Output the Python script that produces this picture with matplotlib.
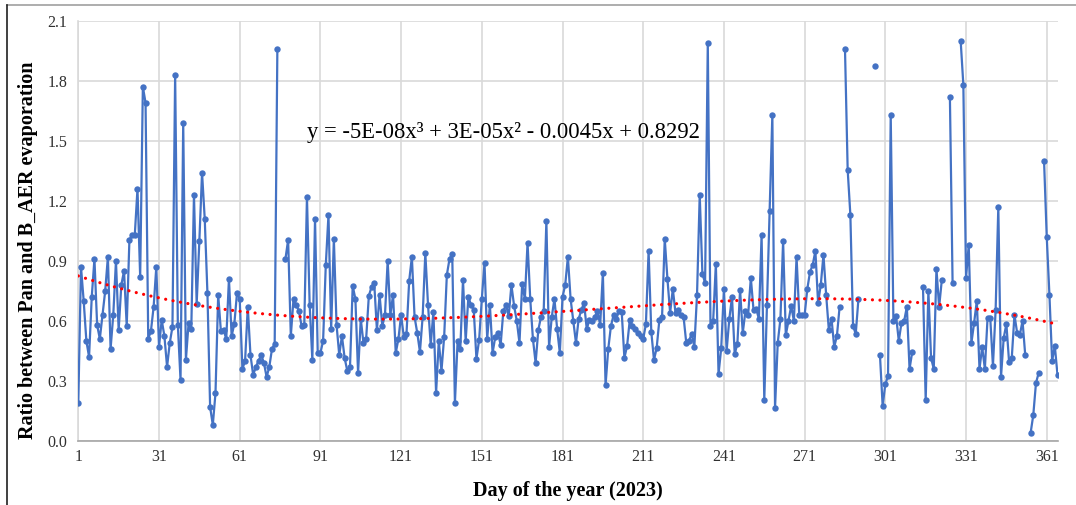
import numpy as np
import matplotlib
matplotlib.use("Agg")
import matplotlib.pyplot as plt
from matplotlib.lines import Line2D

plt.rcParams['font.family'] = ['Liberation Serif', 'DejaVu Serif']

nan = np.nan
# daily Pan / B_AER evaporation ratio, day 1..365 (nan = no data)
ratio = [
    0.19, 0.87, 0.70, 0.50, 0.42, 0.72, 0.91, 0.58, 0.51, 0.63,
    0.75, 0.92, 0.46, 0.63, 0.90, 0.555, 0.78, 0.85, 0.575, 1.005,
    1.03, 1.03, 1.26, 0.82, 1.77, 1.69, 0.51, 0.55, 0.67, 0.87,
    0.47, 0.605, 0.525, 0.37, 0.49, 0.57, 1.83, 0.58, 0.305, 1.59,
    0.405, 0.59, 0.56, 1.23, 0.685, 1.00, 1.34, 1.11, 0.74, 0.17,
    0.08, 0.24, 0.73, 0.55, 0.555, 0.51, 0.81, 0.525, 0.585, 0.74,
    0.71, 0.36, 0.40, 0.67, 0.43, 0.33, 0.37, 0.40, 0.43, 0.39,
    0.32, 0.37, 0.46, 0.485, 1.96, nan, nan, 0.91, 1.005, 0.525,
    0.71, 0.68, 0.65, 0.575, 0.58, 1.22, 0.68, 0.405, 1.11, 0.44,
    0.44, 0.50, 0.88, 1.13, 0.56, 1.01, 0.58, 0.43, 0.525, 0.415,
    0.35, 0.37, 0.775, 0.71, 0.34, 0.61, 0.49, 0.51, 0.725, 0.77,
    0.79, 0.555, 0.73, 0.575, 0.63, 0.90, 0.63, 0.73, 0.44, 0.51,
    0.63, 0.52, 0.535, 0.80, 0.92, 0.62, 0.54, 0.445, 0.62, 0.94,
    0.68, 0.48, 0.645, 0.24, 0.50, 0.35, 0.52, 0.83, 0.91, 0.935,
    0.19, 0.50, 0.46, 0.805, 0.50, 0.72, 0.68, 0.655, 0.41, 0.505,
    0.71, 0.89, 0.51, 0.68, 0.44, 0.52, 0.54, 0.48, 0.65, 0.68,
    0.625, 0.78, 0.675, 0.60, 0.49, 0.785, 0.71, 0.99, 0.71, 0.51,
    0.39, 0.555, 0.62, 0.65, 1.10, 0.47, 0.62, 0.71, 0.56, 0.44,
    0.72, 0.78, 0.92, 0.71, 0.60, 0.49, 0.61, 0.655, 0.69, 0.56,
    0.605, 0.60, 0.62, 0.65, 0.58, 0.84, 0.28, 0.46, 0.575, 0.63,
    0.61, 0.65, 0.645, 0.415, 0.475, 0.605, 0.575, 0.56, 0.54, 0.525,
    0.51, 0.585, 0.95, 0.545, 0.405, 0.465, 0.605, 0.62, 1.01, 0.81,
    0.64, 0.76, 0.64, 0.655, 0.63, 0.62, 0.49, 0.50, 0.535, 0.47,
    0.73, 1.23, 0.835, 0.79, 1.99, 0.575, 0.60, 0.885, 0.335, 0.465,
    0.76, 0.45, 0.61, 0.72, 0.435, 0.485, 0.755, 0.54, 0.65, 0.63,
    0.815, 0.655, 0.66, 0.61, 1.03, 0.205, 0.68, 1.15, 1.63, 0.165,
    0.49, 0.61, 1.00, 0.53, 0.60, 0.675, 0.60, 0.92, 0.63, 0.63,
    0.63, 0.76, 0.845, 0.88, 0.95, 0.69, 0.78, 0.93, 0.73, 0.555,
    0.61, 0.47, 0.525, 0.67, nan, 1.96, 1.355, 1.13, 0.575, 0.535,
    0.71, nan, nan, nan, nan, nan, 1.875, nan, 0.43, 0.175,
    0.285, 0.325, 1.63, 0.60, 0.625, 0.50, 0.59, 0.60, 0.67, 0.36,
    0.445, nan, nan, nan, 0.77, 0.205, 0.75, 0.415, 0.36, 0.86,
    0.67, 0.805, nan, nan, 1.72, 0.79, nan, nan, 2.00, 1.78,
    0.815, 0.98, 0.49, 0.59, 0.70, 0.36, 0.47, 0.36, 0.615, 0.615,
    0.375, 0.655, 1.17, 0.32, 0.515, 0.585, 0.395, 0.415, 0.63, 0.54,
    0.53, 0.60, 0.43, nan, 0.04, 0.13, 0.29, 0.34, nan, 1.40,
    1.02, 0.73, 0.40, 0.475, 0.33,
]
days = np.arange(1, len(ratio) + 1)

# cubic trendline coefficients (x^3, x^2, x, const)
trend_coef = [-4.8e-08, 2.80e-05, -0.0045, 0.8292]

x_ticks = list(range(1, 362, 30))
y_ticks = [0.0, 0.3, 0.6, 0.9, 1.2, 1.5, 1.8, 2.1]

fig = plt.figure(figsize=(10.76, 5.05), dpi=100)
ax = fig.add_axes([78.3 / 1076, 1 - 441 / 505, (1057.5 - 78.3) / 1076, (441 - 20.7) / 505])

ax.plot(days, ratio, color='#4472C4', lw=1.6, marker='o', ms=4.6,
        markeredgewidth=0, zorder=3)

tx = np.linspace(1, 365, 400)
ax.plot(tx, np.polyval(trend_coef, tx), color='#FF0000', lw=2.3,
        linestyle=(0, (0.01, 2.35)), dash_capstyle='round', zorder=4)

a, b, c, d = trend_coef
eq = f"y = {a:.0E}x\u00b3 + {b:.0E}x\u00b2 - {abs(c):.4f}x + {d:.4f}"
ax.text(86, 1.54, eq, fontsize=16.3, ha='left', va='center', zorder=5)

ax.set_xlim(1, 365)
ax.set_ylim(0, 2.1)
ax.set_xticks(x_ticks)
ax.set_yticks(y_ticks)
ax.set_yticklabels([f"{v:.1f}" for v in y_ticks])
ax.tick_params(axis='both', length=0, labelsize=11.5, colors='#303030')
ax.tick_params(axis='x', pad=6)
ax.tick_params(axis='y', pad=8)
ax.grid(True, color='#D9D9D9', lw=1.2, zorder=0)
ax.set_axisbelow(True)
for s in ['top', 'right']:
    ax.spines[s].set_visible(False)
ax.spines['left'].set_color('#D9D9D9')
ax.spines['left'].set_linewidth(1.2)
ax.spines['bottom'].set_color('#A6A6A6')
ax.spines['bottom'].set_linewidth(1.2)

ax.set_xlabel('Day of the year (2023)', fontsize=14.5, fontweight='bold')
ax.xaxis.set_label_coords(0.5, -0.095)
ax.set_ylabel('Ratio between Pan and B_AER evaporation', fontsize=14.5,
              fontweight='bold')
ax.yaxis.set_label_coords(-0.041, 0.455)

# chart frame
fig.add_artist(Line2D([6.5 / 1076, 1], [1 - 5 / 505, 1 - 5 / 505], color='#A0A0A0', lw=1.2))
fig.add_artist(Line2D([6.5 / 1076, 6.5 / 1076], [0, 1 - 5 / 505], color='#202020', lw=1.2))

fig.savefig('out.png', dpi=100)
